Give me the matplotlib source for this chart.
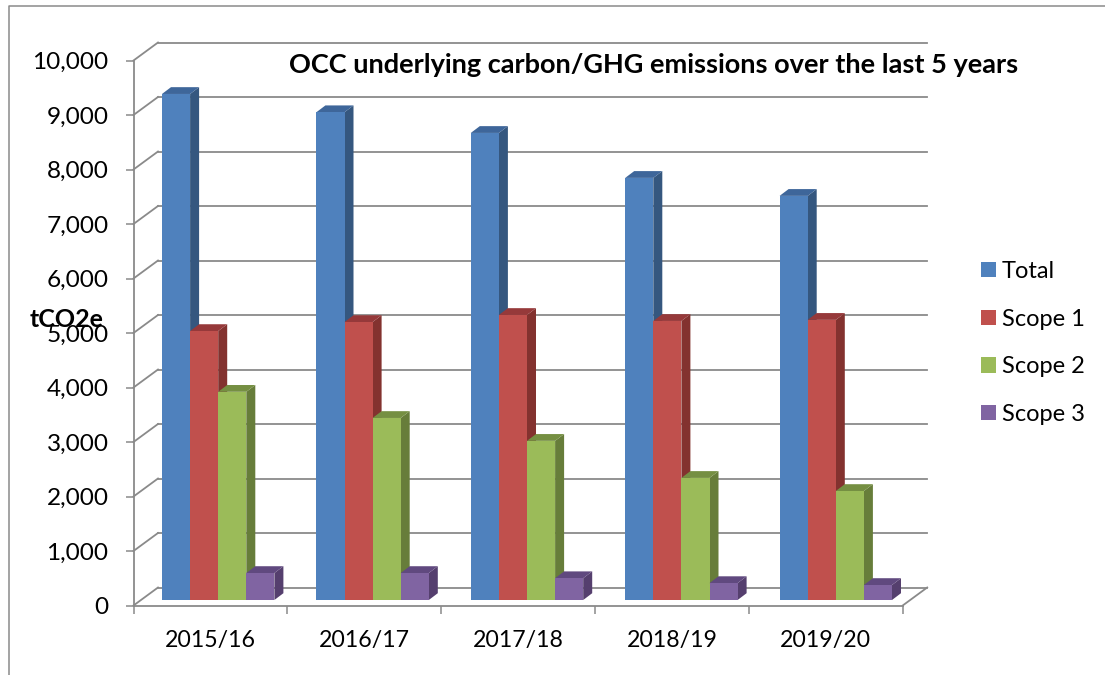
import matplotlib
matplotlib.use('Agg')
import matplotlib.pyplot as plt
from matplotlib.lines import Line2D
from matplotlib.patches import Patch, Polygon
import numpy as np

years = ['2015/16', '2016/17', '2017/18', '2018/19', '2019/20']
total = [9285, 8950, 8570, 7745, 7415]
scope1 = [4935, 5100, 5230, 5120, 5140]
scope2 = [3820, 3340, 2920, 2240, 2000]
scope3 = [495, 495, 400, 310, 275]
y_ticks = [0, 1000, 2000, 3000, 4000, 5000, 6000, 7000, 8000, 9000, 10000]

series_names = ['Total', 'Scope 1', 'Scope 2', 'Scope 3']
front_colors = ['#4F81BD', '#C0504D', '#9BBB59', '#8064A2']
side_colors = ['#35577F', '#83322F', '#677D3A', '#553F6E']
top_colors = ['#3E669A', '#96393A', '#758F42', '#60497F']
grey = '#8A8A8A'

WIDTH, HEIGHT = 1105, 675
plt.rcParams['font.family'] = ['Lato', 'DejaVu Sans']


# axes rectangle given in image pixels
def pixel_axes(fig, left, right, top, bottom):
    return fig.add_axes([left / WIDTH, 1 - bottom / HEIGHT, (right - left) / WIDTH, (bottom - top) / HEIGHT])


fig = plt.figure(figsize=(WIDTH / 100, HEIGHT / 100), dpi=100)

# Outer chart border, only left and top are in view
fig.add_artist(Line2D([8.5 / WIDTH, 8.5 / WIDTH, 1], [0, 1 - 5.5 / HEIGHT, 1 - 5.5 / HEIGHT],
                      color=grey, lw=1.1, transform=fig.transFigure))

# Walls and floor of the 3D box
frame = pixel_axes(fig, 133.5, 902.7, 60.5, 605.5)
frame.set_xlim(0, 5)
frame.set_ylim(0, 10000)
frame.patch.set_alpha(0)
wall_dx = 24.5 / 153.84
wall_dy = 18 / 54.5 * 1000
for y in y_ticks:
    frame.plot([0, wall_dx], [y, y + wall_dy], color=grey, lw=1.3, clip_on=False)
    frame.plot([wall_dx, 5 + wall_dx], [y + wall_dy, y + wall_dy], color=grey, lw=1.3, clip_on=False)
frame.plot([5, 5 + wall_dx], [0, wall_dy], color=grey, lw=1.3, clip_on=False)

for name in ['top', 'right']:
    frame.spines[name].set_visible(False)
for name in ['left', 'bottom']:
    frame.spines[name].set_color(grey)
    frame.spines[name].set_linewidth(1.3)
frame.set_yticks(y_ticks)
frame.set_yticklabels([f'{y:,}' for y in y_ticks])
frame.tick_params(axis='y', length=6, width=1.1, color=grey, pad=12, labelsize=17.6)
frame.set_xticks(np.arange(6))
frame.set_xticklabels([])
frame.tick_params(axis='x', which='major', length=6, width=1.1, color=grey)
frame.set_xticks(np.arange(5) + 0.5, labels=years, minor=True)
frame.tick_params(axis='x', which='minor', length=0, pad=18, labelsize=16.7)

# Bars sit inside the box, so they get their own slightly shifted scale
bars = pixel_axes(fig, 141, 913, 55, 600)
bars.set_xlim(-0.5, 4.5)
bars.set_ylim(0, 10000)
bars.axis('off')
bar_w = 28.1 / 154.4
depth_x = 9 / 154.4
depth_y = 6.8 / 54.5 * 1000
group_x = np.arange(len(years))
all_series = [total, scope1, scope2, scope3]

for g in group_x:
    for s, values in enumerate(all_series):
        left = g + (s - 2) * bar_w
        v = values[g]
        bars.add_patch(Polygon([(left + bar_w, 0), (left + bar_w + depth_x, depth_y),
                                (left + bar_w + depth_x, v + depth_y), (left + bar_w, v)],
                               facecolor=side_colors[s], edgecolor='none', zorder=2 + g * 4 + s))
        bars.add_patch(Polygon([(left, v), (left + depth_x, v + depth_y),
                                (left + bar_w + depth_x, v + depth_y), (left + bar_w, v)],
                               facecolor=top_colors[s], edgecolor='none', zorder=2 + g * 4 + s))
        bars.bar(left, v, bar_w, align='edge', color=front_colors[s], zorder=2 + g * 4 + s)

fig.text(653.5 / WIDTH, 1 - 65 / HEIGHT, 'OCC underlying carbon/GHG emissions over the last 5 years',
         ha='center', va='center', fontsize=19.5, fontweight='bold', color='black')
fig.text(30 / WIDTH, 1 - 319 / HEIGHT, 'tCO2e', ha='left', va='center', fontsize=18, fontweight='bold')

handles = [Patch(facecolor=c, edgecolor='none') for c in front_colors]
fig.legend(handles, series_names, loc='center left', bbox_to_anchor=(981 / WIDTH, 1 - 343 / HEIGHT),
           frameon=False, fontsize=17, handlelength=0.635, handleheight=0.635,
           handletextpad=0.25, labelspacing=1.13, borderpad=0, borderaxespad=0)

fig.savefig('out.png', dpi=100)
